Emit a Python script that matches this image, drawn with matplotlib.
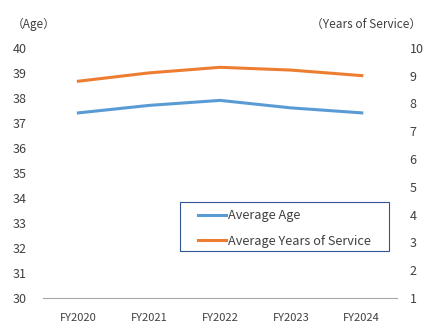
import matplotlib.pyplot as plt
from matplotlib.patches import Rectangle

plt.rcParams['font.family'] = ['Noto Sans CJK JP', 'DejaVu Sans']

years = ['FY2020', 'FY2021', 'FY2022', 'FY2023', 'FY2024']
avg_age = [37.4, 37.7, 37.9, 37.6, 37.4]
avg_service = [8.8, 9.1, 9.3, 9.2, 9.0]

blue = '#5B9BD5'
orange = '#ED7D31'
text_col = '#404040'

fig = plt.figure(figsize=(4.32, 3.30), dpi=100)
ax = fig.add_axes([0.0995, 0.097, 0.82, 0.758])
ax2 = ax.twinx()

x = range(len(years))
l1, = ax.plot(x, avg_age, color=blue, lw=2.2, label='Average Age')
l2, = ax2.plot(x, avg_service, color=orange, lw=2.2, label='Average Years of Service')

ax.set_xlim(-0.5, len(years) - 0.5)
ax.set_ylim(30, 40)
ax.set_yticks(range(30, 41))
ax2.set_ylim(1, 10)
ax2.set_yticks(range(1, 11))
ax.set_xticks(list(x))
ax.set_xticklabels(years)

for a in (ax, ax2):
    for s in a.spines.values():
        s.set_visible(False)
    a.tick_params(length=0, colors=text_col, labelsize=9)
ax.spines['bottom'].set_visible(True)
ax.spines['bottom'].set_color('#A6A6A6')
ax.tick_params(axis='x', labelsize=8, pad=11)
ax.tick_params(axis='y', pad=12)
ax2.tick_params(axis='y', pad=9)

fig.text(0.028, 0.925, '（Age）', fontsize=8.5, color=text_col, ha='left', va='center')
fig.text(0.975, 0.925, '（Years of Service）', fontsize=8.5, color=text_col, ha='right', va='center')

# legend without its own frame, box drawn separately to get the wide padding
leg = ax2.legend(handles=[l1, l2], loc='upper left', bbox_to_anchor=(0.4583, 0.3667),
                 bbox_transform=fig.transFigure, frameon=False, fontsize=9.2,
                 handlelength=2.2, handletextpad=0.15, labelspacing=1.0,
                 borderpad=0, borderaxespad=0, labelcolor=text_col)
fig.patches.append(Rectangle((0.4167, 0.2394), 0.4838, 0.1485, transform=fig.transFigure,
                             fill=False, edgecolor='#2F5597', lw=0.8))

fig.savefig('out.png', dpi=100)
